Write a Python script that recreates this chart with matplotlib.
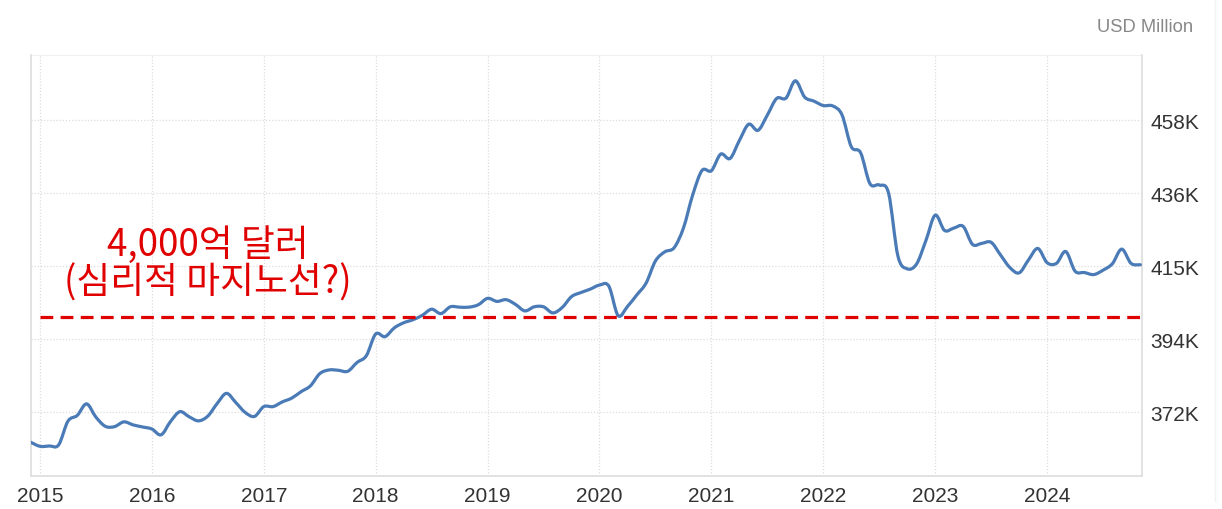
import numpy as np
from matplotlib import pyplot as plt
from matplotlib.path import Path
from matplotlib.patches import PathPatch

# Monthly values, Dec 2014 .. Nov 2024 (USD million, in thousands)
start_year = 2014
start_month = 12
values = [
    363.1,
    361.9, 362.0, 362.3, 369.3, 371.0, 374.4, 370.5, 367.8, 367.7, 369.1, 368.2, 367.6,
    367.0, 365.3, 369.2, 372.1, 370.6, 369.4, 370.8, 374.5, 377.5, 374.8, 371.9, 370.7,
    373.6, 373.6, 375.0, 376.1, 378.0, 379.7, 383.3, 384.4, 384.3, 384.0, 386.6, 388.6,
    395.0, 394.2, 396.8, 398.3, 399.2, 400.5, 402.3, 401.0, 403.0, 402.9, 402.9, 403.6,
    405.5, 404.6, 405.1, 403.7, 401.8, 403.0, 403.0, 401.2, 402.8, 406.0, 407.2, 408.2,
    409.4, 409.1, 400.4, 403.1, 406.5, 410.0, 416.5, 419.2, 420.4, 426.2, 436.0, 443.2,
    443.1, 448.0, 446.7, 452.0, 456.8, 455.0, 459.5, 464.4, 464.5, 469.6, 464.8, 463.6,
    462.3, 462.2, 459.6, 450.2, 448.4, 439.3, 438.9, 436.5, 418.0, 414.2, 415.6, 422.5,
    430.0, 425.5, 426.2, 426.7, 421.4, 421.7, 422.0, 418.3, 414.6, 413.0, 416.8, 420.2,
    416.0, 415.8, 419.3, 413.5, 413.1, 412.5, 413.8, 415.7, 420.0, 415.8, 415.4,
]
year_ticks = list(range(2015, 2025))
y_ticks = [372, 393.5, 415, 436.5, 458]
y_tick_labels = ["372K", "394K", "415K", "436K", "458K"]
threshold = 400
note_lines = ["4,000억 달러", "(심리적 마지노선?)"]

n = len(values)
t = start_year + (start_month - 1) / 12 + np.arange(n) / 12
v = np.array(values)

fig = plt.figure(figsize=(12.22, 5.10), dpi=100)
ax = fig.add_axes([31 / 1222, 33 / 510, 1111 / 1222, 421 / 510])

# smooth curve through the monthly points (Catmull-Rom as cubic Bezier)
px = np.concatenate([[t[0]], t, [t[-1]]])
py = np.concatenate([[v[0]], v, [v[-1]]])
verts = [(t[0], v[0])]
codes = [Path.MOVETO]
for i in range(1, n):
    c1 = (px[i] + (px[i + 1] - px[i - 1]) / 6, py[i] + (py[i + 1] - py[i - 1]) / 6)
    c2 = (px[i + 1] - (px[i + 2] - px[i]) / 6, py[i + 1] - (py[i + 2] - py[i]) / 6)
    verts += [c1, c2, (px[i + 1], py[i + 1])]
    codes += [Path.CURVE4] * 3
ax.add_patch(PathPatch(Path(verts, codes), fill=False, edgecolor="#4a7bb7", lw=2.3,
                       joinstyle="round", capstyle="round", zorder=3))

ax.plot([2015, t[-1]], [threshold, threshold], color="#e00000", lw=2.3,
        dashes=(4, 2.3), zorder=4)

ax.set_xlim(2014.92, 2024.848)
ax.set_ylim(353.15, 477.2)

ax.set_xticks(year_ticks)
ax.set_xticklabels([str(y) for y in year_ticks])
ax.set_yticks(y_ticks)
ax.set_yticklabels(y_tick_labels)
ax.yaxis.tick_right()
ax.tick_params(axis="both", length=0, labelsize=15, labelcolor="#333333")
ax.tick_params(axis="x", pad=7)
ax.tick_params(axis="y", pad=6)
for lab in ax.get_xticklabels() + ax.get_yticklabels():
    lab.set_family("Liberation Sans")

ax.grid(True, color="#dddddd", lw=0.9, ls=(0, (1, 1.5)))
ax.axhline(477.2, color="#eeeeee", lw=1.2)
for side in ["left", "bottom", "right"]:
    ax.spines[side].set_color("#dddddd")
    ax.spines[side].set_linewidth(1.2)
ax.spines["top"].set_visible(False)

fig.text(1193 / 1222, 1 - 27 / 510, "USD Million", ha="right", va="center",
         fontsize=13.2, color="#888888", family="Liberation Sans")

for i, line in enumerate(note_lines):
    fig.text(208 / 1222, 1 - (245 + 38 * i) / 510, line, ha="center", va="center",
             fontsize=26.5, color="#e00000", family=["Noto Sans CJK KR", "DejaVu Sans"])

fig.add_artist(plt.Line2D([1215 / 1222, 1215 / 1222], [8 / 510, 1], color="#f2f2f2", lw=1))

fig.savefig("out.png", dpi=100)
